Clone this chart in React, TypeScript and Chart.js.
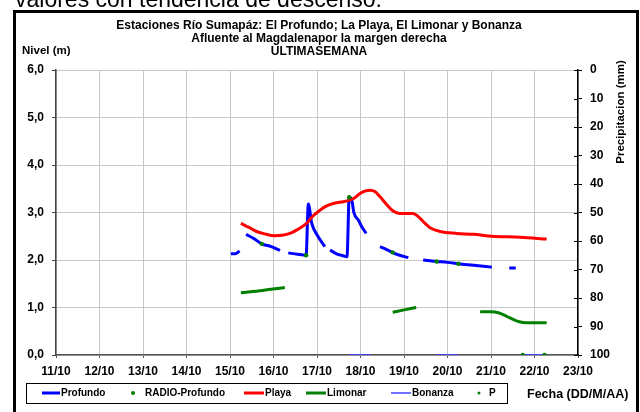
import React, { useEffect, useRef } from 'react';
import { Chart, registerables } from 'chart.js';

Chart.register(...registerables);

const tickLabels = ['11/10', '12/10', '13/10', '14/10', '15/10', '16/10', '17/10', '18/10', '19/10', '20/10', '21/10', '22/10', '23/10'];
const levelTicks = ['0,0', '1,0', '2,0', '3,0', '4,0', '5,0', '6,0'];

const profundoX = [15.02, 15.12, 15.22, 15.3, 15.37, 15.55, 15.73, 15.95, 16.15, 16.25, 16.34, 16.55, 16.75, 16.8, 16.88, 17.0, 17.18, 17.24, 17.3, 17.45, 17.6, 17.69, 17.74, 17.8, 17.85, 17.95, 18.03, 18.13, 18.3, 18.45, 18.6, 18.75, 18.9, 19.1, 19.3, 19.44, 19.75, 20.0, 20.25, 20.6, 21.02, 21.2, 21.42, 21.57];
const profundoY = [2.13, 2.13, 2.19, null, 2.54, 2.45, 2.34, 2.28, 2.2, null, 2.15, 2.12, 2.1, 3.18, 2.77, 2.53, 2.28, null, 2.21, 2.13, 2.09, 2.07, 3.32, 3.26, 2.99, 2.84, 2.7, 2.56, null, 2.28, 2.22, 2.15, 2.1, 2.05, null, 2.0, 1.97, 1.95, 1.92, 1.89, 1.85, null, 1.83, 1.83];

const radioX = [15.73, 16.75, 17.74, 18.74, 19.75, 20.25];
const radioY = [2.34, 2.1, 3.32, 2.16, 1.97, 1.92];

const playaX = [15.25, 15.45, 15.61, 15.8, 16.03, 16.2, 16.38, 16.55, 16.76, 16.9, 17.07, 17.2, 17.37, 17.55, 17.72, 17.85, 17.99, 18.1, 18.22, 18.33, 18.45, 18.6, 18.75, 18.9, 19.02, 19.21, 19.32, 19.44, 19.6, 19.83, 20.21, 20.6, 21.02, 21.67, 22.28];
const playaY = [2.77, 2.68, 2.6, 2.55, 2.51, 2.52, 2.56, 2.64, 2.77, 2.92, 3.05, 3.13, 3.19, 3.22, 3.25, 3.3, 3.4, 3.45, 3.47, 3.44, 3.33, 3.17, 3.03, 2.98, 2.98, 2.98, 2.92, 2.81, 2.68, 2.6, 2.56, 2.54, 2.5, 2.48, 2.44];

const limonarX = [15.25, 15.75, 16.26, 17.5, 18.74, 19.0, 19.28, 20.0, 20.75, 21.0, 21.17, 21.35, 21.51, 21.65, 21.82, 22.05, 22.28];
const limonarY = [1.31, 1.36, 1.42, null, 0.9, 0.95, 1.0, null, 0.91, 0.91, 0.89, 0.82, 0.75, 0.7, 0.68, 0.68, 0.68];

const bonanzaX = [17.73, 18.24, 19.0, 19.74, 20.25, 21.0, 21.79, 22.21];
const bonanzaY = [0, 0, null, 0, 0, null, 0, 0];

const pX = [21.73, 22.23];
const pY = [0, 0];

const titleLines = ['Estaciones Río Sumapáz: El Profundo; La Playa, El Limonar y Bonanza', 'Afluente al Magdalenapor la margen derecha', 'ULTIMASEMANA'];
const legendNames = ['Profundo', 'RADIO-Profundo', 'Playa', 'Limonar', 'Bonanza', 'P'];

const FONT = '"Liberation Sans", Arial, sans-serif';

function pts(xs: number[], ys: (number | null)[]) {
  return xs.map((x, i) => ({ x, y: ys[i] }));
}

const decorPlugin = {
  id: 'decor',
  afterDraw(chart: any) {
    const ctx = chart.ctx as CanvasRenderingContext2D;
    ctx.save();
    // cut-off text from document above
    ctx.fillStyle = '#000';
    ctx.font = `23px ${FONT}`;
    ctx.textAlign = 'left';
    ctx.textBaseline = 'alphabetic';
    ctx.fillText('valores con tendencia de descenso.', 15, 6.5);

    // frame
    ctx.strokeStyle = '#000';
    ctx.lineWidth = 3;
    ctx.beginPath();
    ctx.moveTo(14.5, 420);
    ctx.lineTo(14.5, 11.5);
    ctx.lineTo(637.5, 11.5);
    ctx.lineTo(637.5, 420);
    ctx.stroke();

    // titles
    ctx.font = `bold 12px ${FONT}`;
    ctx.textAlign = 'center';
    ctx.fillText(titleLines[0], 319, 28.5);
    ctx.fillText(titleLines[1], 319, 41.5);
    ctx.fillText(titleLines[2], 319, 54.5);

    ctx.font = `bold 11.5px ${FONT}`;
    ctx.textAlign = 'left';
    ctx.fillText('Nivel (m)', 22, 54);

    ctx.font = `bold 12.5px ${FONT}`;
    ctx.fillText('Fecha (DD/M/AA)', 527, 398);

    ctx.save();
    ctx.translate(624, 112);
    ctx.rotate(-Math.PI / 2);
    ctx.font = `bold 11.5px ${FONT}`;
    ctx.textAlign = 'center';
    ctx.fillText('Precipitacion (mm)', 0, 0);
    ctx.restore();

    // inner ticks on right axis
    const y2 = chart.scales.y2;
    ctx.strokeStyle = '#000';
    ctx.lineWidth = 1;
    for (let v = 0; v <= 100; v += 10) {
      const py = Math.round(y2.getPixelForValue(v)) + 0.5;
      ctx.beginPath();
      ctx.moveTo(y2.left - 4, py);
      ctx.lineTo(y2.left, py);
      ctx.stroke();
    }

    // legend
    const ly = 393;
    ctx.fillStyle = '#fff';
    ctx.fillRect(26, 383, 482, 20);
    ctx.strokeStyle = '#000';
    ctx.lineWidth = 1;
    ctx.strokeRect(26.5, 383.5, 481, 20);
    ctx.font = `bold 10px ${FONT}`;
    ctx.textBaseline = 'middle';
    ctx.textAlign = 'left';
    const drawLine = (x1: number, x2: number, color: string, w: number) => {
      ctx.strokeStyle = color;
      ctx.lineWidth = w;
      ctx.beginPath();
      ctx.moveTo(x1, ly);
      ctx.lineTo(x2, ly);
      ctx.stroke();
    };
    const drawDot = (x: number, r: number) => {
      ctx.fillStyle = '#008000';
      ctx.beginPath();
      ctx.arc(x, ly, r, 0, Math.PI * 2);
      ctx.fill();
    };
    drawLine(42, 60, '#0000ff', 3);
    ctx.fillStyle = '#000';
    ctx.fillText(legendNames[0], 61, ly);
    drawDot(133, 2);
    ctx.fillStyle = '#000';
    ctx.fillText(legendNames[1], 145, ly);
    drawLine(244, 264, '#ff0000', 3);
    ctx.fillStyle = '#000';
    ctx.fillText(legendNames[2], 265, ly);
    drawLine(306, 326, '#008000', 3);
    ctx.fillStyle = '#000';
    ctx.fillText(legendNames[3], 327, ly);
    drawLine(391, 411, '#4444ff', 1.5);
    ctx.fillStyle = '#000';
    ctx.fillText(legendNames[4], 412, ly);
    drawDot(479, 1.5);
    ctx.fillStyle = '#000';
    ctx.fillText(legendNames[5], 489, ly);
    ctx.restore();
  },
};

export default function App() {
  const ref = useRef<HTMLCanvasElement | null>(null);
  useEffect(() => {
    document.body.style.margin = '0';
    const canvas = ref.current;
    if (!canvas) return;
    const lineBase = {
      type: 'line' as const,
      pointRadius: 0,
      pointHoverRadius: 0,
      fill: false,
      spanGaps: false,
      cubicInterpolationMode: 'monotone' as const,
      yAxisID: 'y',
    };
    const chart = new Chart(canvas, {
      type: 'line',
      data: {
        datasets: [
          { ...lineBase, label: legendNames[1], data: pts(radioX, radioY), showLine: false, pointRadius: 2.2, pointBackgroundColor: '#008000', pointBorderWidth: 0, borderColor: '#008000', order: 0 },
          { ...lineBase, label: legendNames[5], data: pts(pX, pY), showLine: false, pointRadius: 2.2, pointBackgroundColor: '#008000', pointBorderWidth: 0, borderColor: '#008000', order: 0 },
          { ...lineBase, label: legendNames[2], data: pts(playaX, playaY), borderColor: '#ff0000', borderWidth: 3, order: 1 },
          { ...lineBase, label: legendNames[0], data: pts(profundoX, profundoY), borderColor: '#0000ff', borderWidth: 3, order: 2 },
          { ...lineBase, label: legendNames[3], data: pts(limonarX, limonarY), borderColor: '#008000', borderWidth: 3, order: 3 },
          { ...lineBase, label: legendNames[4], data: pts(bonanzaX, bonanzaY), borderColor: '#4444ff', borderWidth: 2, order: 4 },
        ],
      },
      options: {
        responsive: false,
        animation: false,
        devicePixelRatio: 1,
        layout: { padding: { top: 70, left: 0, right: 22, bottom: 27 } },
        plugins: { legend: { display: false }, tooltip: { enabled: false }, title: { display: false } },
        scales: {
          x: {
            type: 'linear',
            min: 11,
            max: 23,
            afterFit: (s: any) => { s.height = 30; },
            ticks: {
              stepSize: 1,
              autoSkip: false,
              maxRotation: 0,
              padding: 6,
              color: '#000',
              font: { family: FONT, size: 12, weight: 'bold' },
              callback: (v: any) => tickLabels[Math.round(Number(v)) - 11] ?? '',
            },
            grid: { color: '#c8c8c8', lineWidth: 1, tickLength: 3, tickColor: '#555' },
            border: { color: '#555', width: 1.5 },
          },
          y: {
            type: 'linear',
            position: 'left',
            min: 0,
            max: 6,
            afterFit: (s: any) => { s.width = 56; },
            ticks: {
              stepSize: 1,
              padding: 8,
              color: '#000',
              font: { family: FONT, size: 12, weight: 'bold' },
              callback: (v: any) => levelTicks[Math.round(Number(v))] ?? '',
            },
            grid: { color: '#c8c8c8', lineWidth: 1, tickLength: 4, tickColor: '#444' },
            border: { color: '#444', width: 1.5 },
          },
          y2: {
            type: 'linear',
            position: 'right',
            min: 0,
            max: 100,
            reverse: true,
            afterFit: (s: any) => { s.width = 40; },
            ticks: {
              stepSize: 10,
              padding: 8,
              color: '#000',
              font: { family: FONT, size: 12, weight: 'bold' },
            },
            grid: { drawOnChartArea: false, tickLength: 4, tickColor: '#000', lineWidth: 1 },
            border: { color: '#000', width: 1.5 },
          },
        },
      },
      plugins: [decorPlugin],
    });
    return () => chart.destroy();
  }, []);
  return <canvas ref={ref} width={640} height={412} style={{ display: 'block' }} />;
}
